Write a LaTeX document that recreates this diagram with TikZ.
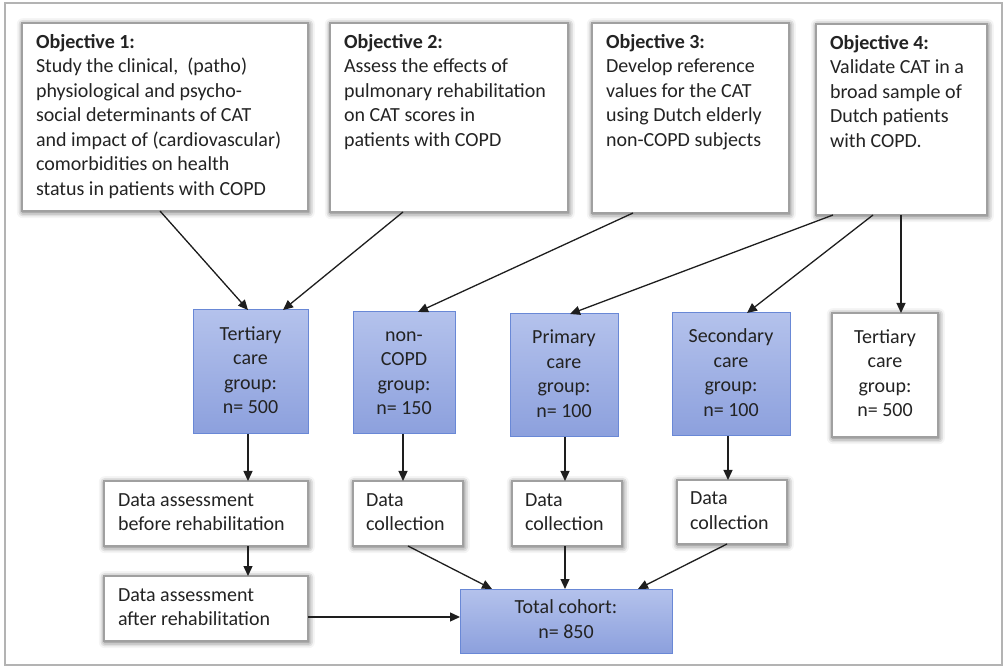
\documentclass[tikz,border=0pt]{standalone}
\usepackage{fontspec}
\setmainfont{Carlito}
\usetikzlibrary{arrows.meta,shadows.blur,calc}
\definecolor{bluetop}{RGB}{180,194,236}
\definecolor{bluebot}{RGB}{140,160,221}
\definecolor{blueline}{RGB}{105,136,214}
\definecolor{boxline}{RGB}{160,160,160}
\definecolor{txt}{RGB}{35,35,35}
\definecolor{arrcol}{RGB}{30,30,30}
\begin{document}
\begin{tikzpicture}[x=1pt,y=-1pt,
  every node/.style={font=\fontsize{20}{24.5}\selectfont, text=txt},
  whitebox/.style={draw=boxline, line width=1.5pt, fill=white, inner xsep=14pt, inner ysep=0pt, outer sep=0pt, anchor=north west,
    blur shadow={shadow xshift=0.8pt, shadow yshift=-1.2pt, shadow blur radius=6pt, shadow opacity=65}},
  bluebox/.style={draw=blueline, line width=1pt, top color=bluetop, bottom color=bluebot, inner sep=0pt, outer sep=0pt, anchor=north west},
  arr/.style={draw=arrcol, line width=1.3pt, -{Triangle[length=10pt,width=9pt]}}
]
\useasboundingbox (0,0) rectangle (1005,668);
\draw[draw=boxline!80, line width=1.5pt] (5,3) rectangle (1002,665);

% Objective boxes
\node[whitebox, minimum width=286pt, minimum height=188pt] (obj1) at (22,23)
  {\parbox[c][172pt][t]{258pt}{\raggedright\strut\textbf{Objective 1:}\\Study the clinical, \ (patho)\\physiological and psycho-\\social determinants of CAT\\and impact of (cardiovascular)\\comorbidities on health\\status in patients with COPD\strut}};
\node[whitebox, minimum width=238pt, minimum height=189pt] (obj2) at (330,23)
  {\parbox[c][173pt][t]{210pt}{\raggedright\strut\textbf{Objective 2:}\\Assess the effects of\\pulmonary rehabilitation\\on CAT scores in\\patients with COPD\strut}};
\node[whitebox, minimum width=197pt, minimum height=190pt] (obj3) at (592,23)
  {\parbox[c][174pt][t]{169pt}{\raggedright\strut\textbf{Objective 3:}\\Develop reference\\values for the CAT\\using Dutch elderly\\non-COPD subjects\strut}};
\node[whitebox, minimum width=171pt, minimum height=191pt] (obj4) at (816,24)
  {\parbox[c][175pt][t]{143pt}{\raggedright\strut\textbf{Objective 4:}\\Validate CAT in a\\broad sample of\\Dutch patients\\with COPD.\strut}};

% Group boxes
\node[bluebox, minimum width=115pt, minimum height=124pt] (tert) at (193,310)
  {\parbox{110pt}{\centering\strut Tertiary\\care\\group:\\n= 500\strut}};
\node[bluebox, minimum width=102pt, minimum height=122pt] (noncopd) at (353,312)
  {\parbox{98pt}{\centering\strut non-\\COPD\\group:\\n= 150\strut}};
\node[bluebox, minimum width=108pt, minimum height=123pt] (prim) at (510,314)
  {\parbox{104pt}{\centering\strut Primary\\care\\group:\\n= 100\strut}};
\node[bluebox, minimum width=118pt, minimum height=123pt] (sec) at (672,313)
  {\parbox{114pt}{\centering\strut Secondary\\care\\group:\\n= 100\strut}};
\node[whitebox, inner xsep=0pt, minimum width=106pt, minimum height=124pt] (tertw) at (832,313)
  {\parbox{102pt}{\centering\strut Tertiary\\care\\group:\\n= 500\strut}};

% Data boxes
\node[whitebox, minimum width=204pt, minimum height=65pt] (before) at (104,481)
  {\parbox{176pt}{\raggedright\strut Data assessment\\before rehabilitation\strut}};
\node[whitebox, minimum width=204pt, minimum height=65pt] (after) at (104,576)
  {\parbox{176pt}{\raggedright\strut Data assessment\\after rehabilitation\strut}};
\node[whitebox, inner xsep=13pt, minimum width=110pt, minimum height=65pt] (dc1) at (353,481)
  {\parbox{84pt}{\raggedright\strut Data\\collection\strut}};
\node[whitebox, inner xsep=13pt, minimum width=110pt, minimum height=65pt] (dc2) at (512,481)
  {\parbox{84pt}{\raggedright\strut Data\\collection\strut}};
\node[whitebox, inner xsep=13pt, minimum width=110pt, minimum height=64pt] (dc3) at (677,480)
  {\parbox{84pt}{\raggedright\strut Data\\collection\strut}};

\node[bluebox, minimum width=212pt, minimum height=64pt] (total) at (460,589)
  {\parbox{200pt}{\centering\strut Total cohort:\\n= 850\strut}};

% Arrows from objectives
\draw[arr] ([xshift=138pt]obj1.south west) -- ([xshift=55pt]tert.north west);
\draw[arr] ([xshift=73pt]obj2.south west) -- ([xshift=90pt]tert.north west);
\draw[arr] ([xshift=41pt]obj3.south west) -- ([xshift=65pt]noncopd.north west);
\draw[arr] ([xshift=17pt]obj4.south west) -- ([xshift=60pt]prim.north west);
\draw[arr] ([xshift=57pt]obj4.south west) -- ([xshift=75pt]sec.north west);
\draw[arr] ([xshift=85pt]obj4.south west) -- ([xshift=69pt]tertw.north west);

% Group to data
\draw[arr] ([xshift=55pt]tert.south west) -- ([xshift=144pt]before.north west);
\draw[arr] ([xshift=50pt]noncopd.south west) -- ([xshift=50pt]dc1.north west);
\draw[arr] ([xshift=55pt]prim.south west) -- ([xshift=53pt]dc2.north west);
\draw[arr] ([xshift=56pt]sec.south west) -- ([xshift=51pt]dc3.north west);
\draw[arr] ([xshift=144pt]before.south west) -- ([xshift=144pt]after.north west);

% Data to total
\draw[arr] ([xshift=55pt]dc1.south west) -- ([xshift=32pt]total.north west);
\draw[arr] ([xshift=53pt]dc2.south west) -- ([xshift=105pt]total.north west);
\draw[arr] ([xshift=50pt]dc3.south west) -- ([xshift=178pt]total.north west);
\draw[arr] ([yshift=-8.5pt]after.east) -- ([yshift=-8.5pt]after.east -| total.west);
\end{tikzpicture}
\end{document}
